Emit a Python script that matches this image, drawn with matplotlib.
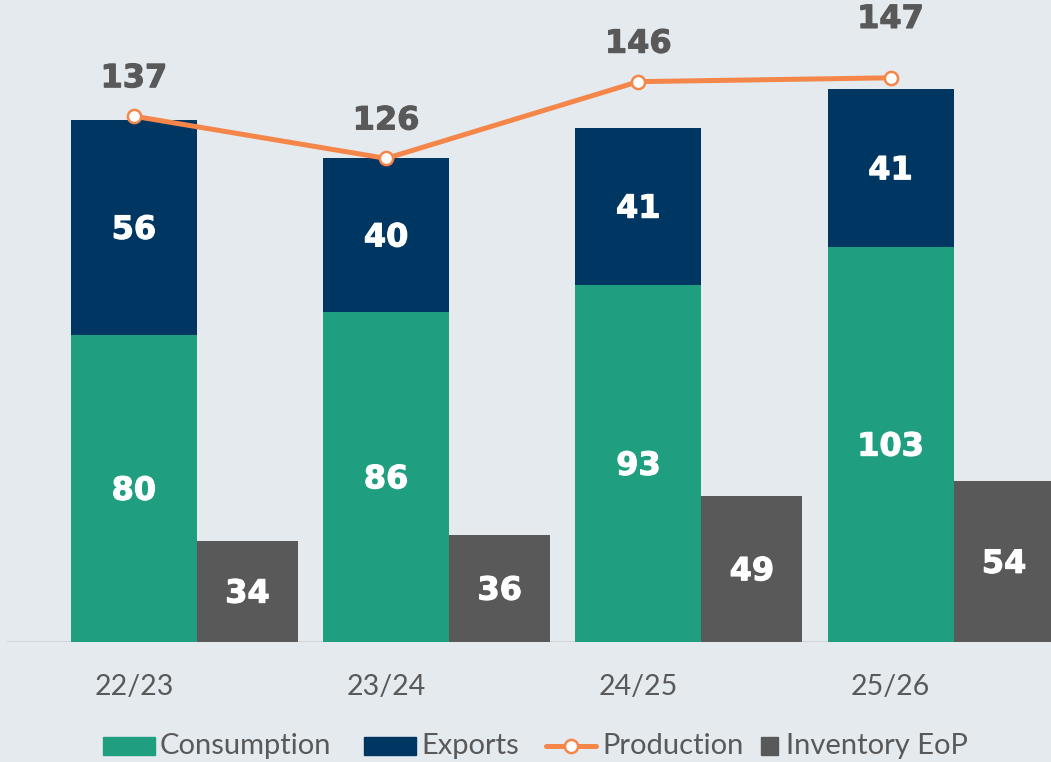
import matplotlib
matplotlib.use("Agg")
import matplotlib.pyplot as plt
import matplotlib.patheffects as pe
from matplotlib.patches import Rectangle
from matplotlib.lines import Line2D

seasons = ["22/23", "23/24", "24/25", "25/26"]
consumption = [80, 86, 93, 103]
exports = [56, 40, 41, 41]
production = [137, 126, 146, 147]
inventory = [34, 36, 49, 54]

GREEN = "#1F9F80"
NAVY = "#003662"
GREY = "#595959"
ORANGE = "#F5864A"
BG = "#E5EAEF"
TEXT = "#595959"

W, H = 1051, 762
fig = plt.figure(figsize=(W / 100, H / 100), dpi=100, facecolor=BG)

# main axes: baseline sits 120 px above the bottom edge
ax = fig.add_axes([0, 120 / H, 1, 642 / H])
ax.set_facecolor(BG)
x = list(range(len(seasons)))

ax.bar(x, consumption, width=0.5, color=GREEN, zorder=2)
ax.bar(x, exports, width=0.5, bottom=consumption, color=NAVY, zorder=2)
ax.set_xlim(-0.531, 3.636)
ax.set_ylim(0, 642 / 3.838)

# inventory uses its own scale
ax2 = ax.twinx()
ax2.set_ylim(0, 642 / 2.98)
ax2.bar([i + 0.25 for i in x], inventory, width=0.4, align="edge", color=GREY, zorder=2)

# production line on top of everything
ax3 = ax.twinx()
ax3.set_ylim(ax.get_ylim())
ax3.plot(x, production, color=ORANGE, lw=3.6, marker="o", ms=9.5,
         mfc="white", mec=ORANGE, mew=1.8, solid_capstyle="round", clip_on=False, zorder=3)

for a in (ax, ax2, ax3):
    for s in a.spines.values():
        s.set_visible(False)
    a.set_yticks([])

ax.axhline(0, xmin=8 / W, xmax=1, color="#D3D6DA", lw=1.5, zorder=1)

ax.set_xticks(x)
ax.set_xticklabels(seasons, fontsize=20.5, color=TEXT, family="Lato")
ax.tick_params(axis="x", length=0, pad=23)


def label(axis, xv, yv, text, color, dy=-2):
    # bold value label, slightly thickened to get a heavier weight
    axis.annotate(text, (xv, yv), xytext=(0, dy), textcoords="offset points",
                  ha="center", va="center", fontsize=23, fontweight="bold",
                  family="DejaVu Sans", color=color, annotation_clip=False,
                  path_effects=[pe.withStroke(linewidth=0.8, foreground=color)])


prod_offsets = [27, 27, 27, 42]
for i in x:
    label(ax, i, consumption[i] / 2, str(consumption[i]), "white")
    label(ax, i, consumption[i] + exports[i] / 2, str(exports[i]), "white")
    label(ax2, i + 0.45, inventory[i] / 2, str(inventory[i]), "white")
    label(ax3, i, production[i], str(production[i]), TEXT, dy=prod_offsets[i])


# legend drawn in pixel positions along the bottom
def fx(px):
    return px / W


def fy(py):
    return 1 - py / H


leg_y = 746
leg_font = dict(fontsize=21, color=TEXT, family="Lato", va="center", ha="left")
fig.add_artist(Rectangle((fx(103), fy(755)), 52 / W, 18 / H, color=GREEN,
                         transform=fig.transFigure))
fig.text(fx(160), fy(leg_y), "Consumption", **leg_font)
fig.add_artist(Rectangle((fx(364), fy(755)), 52 / W, 18 / H, color=NAVY,
                         transform=fig.transFigure))
fig.text(fx(421), fy(leg_y), "Exports", **leg_font)
fig.add_artist(Line2D([fx(546), fx(596)], [fy(746), fy(746)], color=ORANGE, lw=3.6,
                      solid_capstyle="round", transform=fig.transFigure))
fig.add_artist(Line2D([fx(571)], [fy(746)], marker="o", ms=9.5, mfc="white",
                      mec=ORANGE, mew=1.8, transform=fig.transFigure))
fig.text(fx(602), fy(leg_y), "Production", **leg_font)
fig.add_artist(Rectangle((fx(761), fy(755)), 17 / W, 18 / H, color=GREY,
                         transform=fig.transFigure))
fig.text(fx(786), fy(leg_y), "Inventory EoP", **leg_font)

fig.savefig("out.png", dpi=100, facecolor=BG)
